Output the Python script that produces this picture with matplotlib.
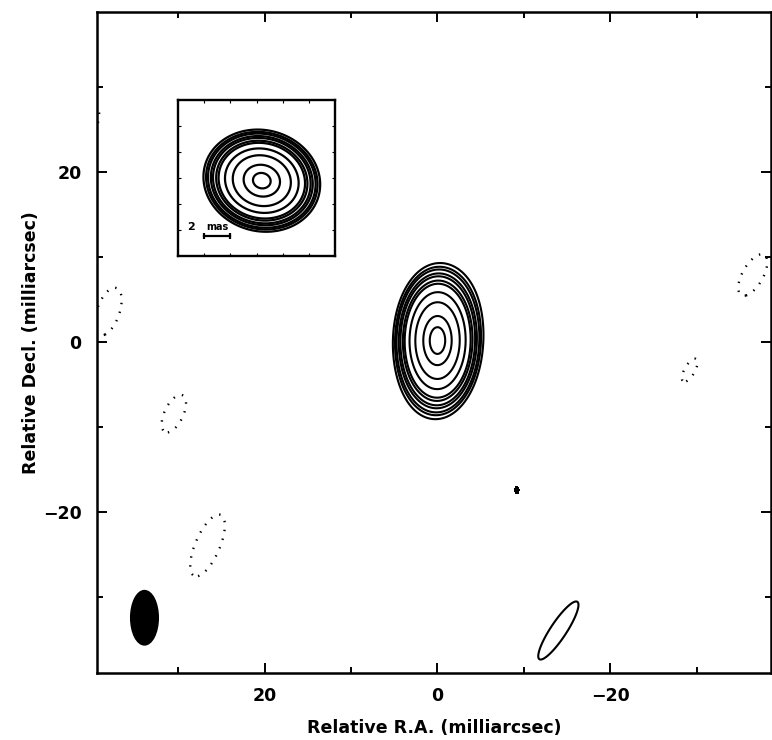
import numpy as np
import matplotlib
matplotlib.use("Agg")
import matplotlib.pyplot as plt
from matplotlib.patches import Ellipse
from matplotlib.ticker import MultipleLocator

plt.rcParams["font.family"] = ["DejaVu Sans"]

# --- main map: elliptical gaussian components ---
# columns: x0, y0 (mas), sigma_minor, sigma_major, tilt (deg), amplitude (% of peak)
comp_x0 = [0.0, -0.4, 40.2, 38.1, 30.5, 26.6, -36.5, -29.2, -39.6, -14.0]
comp_y0 = [0.2, 0.0, 26.6, 3.6, -8.4, -23.9, 7.9, -3.3, 29.8, -33.9]
comp_sa = [1.65, 2.3, 1.0, 1.2, 1.0, 1.3, 1.1, 0.55, 0.8, 1.2]
comp_sb = [2.9, 4.3, 1.3, 2.7, 2.2, 3.6, 2.5, 1.4, 1.2, 5.2]
comp_tilt = [0, 12, 0, 19, 25, 23, 29, 29, 0, 33]
comp_amp = [100, 4, -1.8, -1.8, -1.8, -1.8, -1.8, -1.8, -1.8, 1.35]

# tiny compact knot, drawn filled
knot = dict(x0=-9.2, y0=-17.4, sa=0.32, sb=0.58, tilt=0, amp=1.35)

levels_pos = [1, 1.5, 2, 3, 4, 6, 8, 16, 32, 64, 90]
levels_neg = [-1]

# restoring beam (lower left corner)
beam_x, beam_y = 33.9, -32.4
beam_w, beam_h, beam_pa = 3.2, 6.4, 0

# --- inset: core at higher resolution ---
ins_x0, ins_y0 = 0.4, -0.2
ins_sa, ins_sb, ins_tilt = 1.27, 1.47, 75
ins_levels = [1, 1.5, 2, 3, 4, 6, 8, 16, 32, 64, 90]
scalebar_mas = 2


def gauss_map(X, Y, x0, y0, sa, sb, tilt, amp):
    t = np.deg2rad(tilt)
    dx, dy = X - x0, Y - y0
    u = dx * np.cos(t) + dy * np.sin(t)
    v = -dx * np.sin(t) + dy * np.cos(t)
    return amp * np.exp(-0.5 * ((u / sa) ** 2 + (v / sb) ** 2))


x = np.linspace(-45, 45, 901)
X, Y = np.meshgrid(x, x)
Z = np.zeros_like(X)
for p in zip(comp_x0, comp_y0, comp_sa, comp_sb, comp_tilt, comp_amp):
    Z += gauss_map(X, Y, *p)
Zk = gauss_map(X, Y, **knot)

fig = plt.figure(figsize=(7.72, 7.4), dpi=100)
ax = fig.add_axes([0.1256, 0.0905, 0.873, 0.893])

ax.contour(X, Y, Z, levels=levels_pos, colors="black", linewidths=1.5)
ax.contour(X, Y, Z, levels=levels_neg, colors="black", linewidths=1.7,
           linestyles=[(0, (0.6, 3.2))])
ax.contourf(X, Y, Zk, levels=[1, 1000], colors="black")
ax.add_patch(Ellipse((beam_x, beam_y), beam_w, beam_h, angle=beam_pa,
                     facecolor="black", edgecolor="black"))

ax.set_xlim(39.4, -38.6)
ax.set_ylim(-38.9, 38.8)
ax.xaxis.set_major_locator(MultipleLocator(20))
ax.xaxis.set_minor_locator(MultipleLocator(10))
ax.yaxis.set_major_locator(MultipleLocator(20))
ax.yaxis.set_minor_locator(MultipleLocator(10))
ax.tick_params(which="both", direction="in", top=True, right=True, width=1.4)
ax.tick_params(which="major", length=7.5, labelsize=12.5)
ax.tick_params(which="minor", length=4.5)
ax.tick_params(axis="x", which="major", pad=10)
ax.tick_params(axis="y", which="major", pad=11)
for lab in ax.get_xticklabels() + ax.get_yticklabels():
    lab.set_fontweight("bold")
for s in ax.spines.values():
    s.set_linewidth(1.8)
ax.set_xlabel("Relative R.A. (milliarcsec)", fontsize=12.5, fontweight="bold",
              labelpad=10)
ax.set_ylabel("Relative Decl. (milliarcsec)", fontsize=12.5, fontweight="bold",
              labelpad=2)

# inset
xi = np.linspace(-6, 6, 481)
XI, YI = np.meshgrid(xi, xi)
ZI = gauss_map(XI, YI, ins_x0, ins_y0, ins_sa, ins_sb, ins_tilt, 100)

axi = fig.add_axes([0.2306, 0.654, 0.2034, 0.2108])
axi.contour(XI, YI, ZI, levels=ins_levels, colors="black", linewidths=1.6)
axi.set_xlim(-5.95, 5.95)
axi.set_ylim(-5.95, 5.95)
axi.xaxis.set_major_locator(MultipleLocator(2))
axi.yaxis.set_major_locator(MultipleLocator(2))
axi.tick_params(direction="in", length=2.5, width=0.8, top=True, right=True,
                labelbottom=False, labelleft=False)
for s in axi.spines.values():
    s.set_linewidth(1.7)
bar_x0, bar_y = -4.0, -4.4
axi.plot([bar_x0, bar_x0 + scalebar_mas], [bar_y, bar_y], color="black",
         lw=1.6, marker="|", ms=5, mew=1.6)
axi.text(-5.0, bar_y + 0.3, "2", fontsize=8, fontweight="bold",
         ha="center", va="bottom")
axi.text(bar_x0 + scalebar_mas / 2, bar_y + 0.3, "mas", fontsize=7,
         fontweight="bold", ha="center", va="bottom")

fig.savefig("out.png", dpi=100)
